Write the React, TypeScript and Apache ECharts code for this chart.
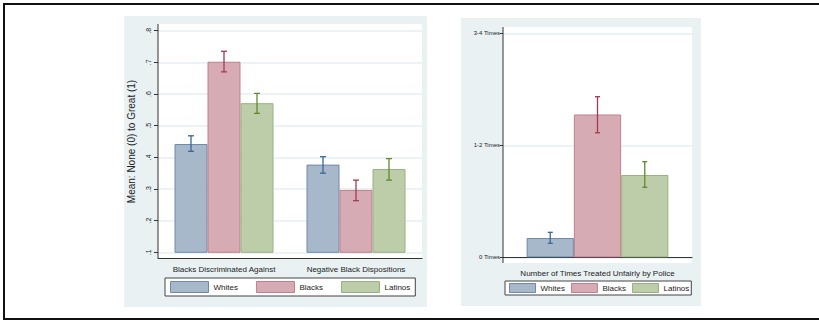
import React, { useEffect, useRef } from "react";
import * as echarts from "echarts";

const leftCategories = ["Blacks Discriminated Against", "Negative Black Dispositions"];
const rightCategories = ["Number of Times Treated Unfairly by Police"];
const groups = ["Whites", "Blacks", "Latinos"];

// Left panel means and CI bounds
const leftWhites = [0.442, 0.377];
const leftBlacks = [0.702, 0.297];
const leftLatinos = [0.571, 0.363];
const leftWhitesCI = [[0.419, 0.468], [0.350, 0.402]];
const leftBlacksCI = [[0.670, 0.735], [0.263, 0.328]];
const leftLatinosCI = [[0.539, 0.602], [0.328, 0.396]];

// Right panel means and CI bounds
const rightWhites = [0.172];
const rightBlacks = [1.275];
const rightLatinos = [0.735];
const rightWhitesCI = [[0.125, 0.223]];
const rightBlacksCI = [[1.112, 1.434]];
const rightLatinosCI = [[0.625, 0.854]];

const leftTickLabels = [".1", ".2", ".3", ".4", ".5", ".6", ".7", ".8"];
const rightTickLabels = ["0 Times", "1-2 Times", "3-4 Times"];

const fills = ["#a7b8ca", "#d7abb3", "#bdcca9"];
const borders = ["#6e8aa8", "#c07f8d", "#97b281"];
const errColors = ["#3c6791", "#a43a4c", "#5f8a2f"];

export default function App() {
  const ref = useRef<HTMLDivElement>(null);
  useEffect(() => {
    const chart = echarts.init(ref.current!, undefined, { renderer: "svg" });
    const font = "Liberation Sans, Arial, sans-serif";

    const barSeries = (name: string, k: number, data: number[], gi: number) => ({
      type: "bar",
      name,
      xAxisIndex: gi,
      yAxisIndex: gi,
      data,
      barGap: "0%",
      barCategoryGap: "25%",
      itemStyle: { color: fills[k], borderColor: borders[k], borderWidth: 1 },
      z: 2,
    });

    const errSeries = (k: number, ci: number[][], gi: number, cap: number) => ({
      type: "custom",
      name: groups[k] + " CI",
      xAxisIndex: gi,
      yAxisIndex: gi,
      z: 5,
      data: ci.map((d, i) => [i, d[0], d[1]]),
      encode: { x: 0, y: [1, 2] },
      renderItem: (params: any, api: any) => {
        const c = api.value(0);
        const lo = api.coord([c, api.value(1)]);
        const hi = api.coord([c, api.value(2)]);
        const bw = (api.size([1, 0])[0] * 0.75) / 3;
        const x = lo[0] + (k - 1) * bw;
        const style = { stroke: errColors[k], lineWidth: 1.3 };
        return {
          type: "group",
          children: [
            { type: "line", shape: { x1: x, y1: lo[1], x2: x, y2: hi[1] }, style },
            { type: "line", shape: { x1: x - cap, y1: lo[1], x2: x + cap, y2: lo[1] }, style },
            { type: "line", shape: { x1: x - cap, y1: hi[1], x2: x + cap, y2: hi[1] }, style },
          ],
        };
      },
    });

    const axisLineStyle = { color: "#333", width: 1 };

    chart.setOption({
      animation: false,
      textStyle: { fontFamily: font },
      graphic: [
        { type: "rect", z: -10, shape: { x: 124, y: 16, width: 303, height: 291 }, style: { fill: "#e9f1f3" } },
        { type: "rect", z: -10, shape: { x: 461, y: 18, width: 240, height: 288 }, style: { fill: "#e9f1f3" } },
        { type: "rect", z: -9, shape: { x: 158, y: 24, width: 264, height: 234 }, style: { fill: "#ffffff" } },
        { type: "rect", z: -9, shape: { x: 503, y: 27, width: 189, height: 236 }, style: { fill: "#ffffff" } },
        { type: "line", z: 10, shape: { x1: 158, y1: 24, x2: 158, y2: 258 }, style: { stroke: "#333", lineWidth: 1 } },
        { type: "line", z: 10, shape: { x1: 503, y1: 27, x2: 503, y2: 263 }, style: { stroke: "#333", lineWidth: 1 } },
        { type: "rect", z: 20, shape: { x: 4, y: 4, width: 840, height: 315 }, style: { fill: "none", stroke: "#111", lineWidth: 2 } },
      ],
      grid: [
        { left: 158, right: 819 - 422, top: 30.7, height: 221.6 },
        { left: 503, right: 819 - 692, top: 33.3, height: 224 },
      ],
      xAxis: [
        {
          type: "category",
          gridIndex: 0,
          data: leftCategories,
          offset: 6,
          axisLine: { lineStyle: axisLineStyle },
          axisTick: { alignWithLabel: true, length: 4, lineStyle: axisLineStyle },
          axisLabel: { interval: 0, fontSize: 8, color: "#222", margin: 7 },
        },
        {
          type: "category",
          gridIndex: 1,
          data: rightCategories,
          offset: 6,
          axisLine: { lineStyle: axisLineStyle },
          axisTick: { alignWithLabel: true, length: 4, lineStyle: axisLineStyle },
          axisLabel: { interval: 0, fontSize: 8, color: "#222", margin: 6 },
        },
      ],
      yAxis: [
        {
          type: "value",
          gridIndex: 0,
          min: 0.1,
          max: 0.8,
          interval: 0.1,
          name: "Mean: None (0) to Great (1)",
          nameLocation: "middle",
          nameGap: 22,
          nameRotate: 90,
          nameTextStyle: { fontSize: 10, color: "#222" },
          axisLine: { show: false },
          axisTick: { show: true, length: 4, lineStyle: axisLineStyle },
          axisLabel: {
            fontSize: 7,
            color: "#222",
            rotate: 90,
            margin: 6,
            formatter: (v: number) => leftTickLabels[Math.round(v * 10) - 1] ?? "",
          },
          splitLine: { show: true, lineStyle: { color: "#e6eff1", width: 1.5 } },
        },
        {
          type: "value",
          gridIndex: 1,
          min: 0,
          max: 2,
          interval: 1,
          axisLine: { show: false },
          axisTick: { show: true, length: 3, lineStyle: axisLineStyle },
          axisLabel: {
            fontSize: 6,
            color: "#222",
            margin: 3,
            formatter: (v: number) => rightTickLabels[Math.round(v)] ?? "",
          },
          splitLine: { show: true, lineStyle: { color: "#e6eff1", width: 1.5 } },
        },
      ],
      legend: [
        {
          left: 165,
          top: 278,
          data: groups,
          icon: "rect",
          itemWidth: 38,
          itemHeight: 11,
          itemGap: 18,
          padding: [3, 5, 3, 5],
          backgroundColor: "#fff",
          borderColor: "#444",
          borderWidth: 1,
          selectedMode: false,
          itemStyle: { borderWidth: 1 },
          textStyle: { fontSize: 8, color: "#222" },
        },
        {
          left: 505,
          top: 281,
          data: groups,
          icon: "rect",
          itemWidth: 26,
          itemHeight: 9,
          itemGap: 6,
          padding: [2, 2, 2, 4],
          backgroundColor: "#fff",
          borderColor: "#444",
          borderWidth: 1,
          selectedMode: false,
          itemStyle: { borderWidth: 1 },
          textStyle: { fontSize: 8, color: "#222" },
        },
      ],
      series: [
        barSeries("Whites", 0, leftWhites, 0),
        barSeries("Blacks", 1, leftBlacks, 0),
        barSeries("Latinos", 2, leftLatinos, 0),
        errSeries(0, leftWhitesCI, 0, 3),
        errSeries(1, leftBlacksCI, 0, 3),
        errSeries(2, leftLatinosCI, 0, 3),
        barSeries("Whites", 0, rightWhites, 1),
        barSeries("Blacks", 1, rightBlacks, 1),
        barSeries("Latinos", 2, rightLatinos, 1),
        errSeries(0, rightWhitesCI, 1, 2.5),
        errSeries(1, rightBlacksCI, 1, 2.5),
        errSeries(2, rightLatinosCI, 1, 2.5),
      ],
    });
    return () => chart.dispose();
  }, []);
  return (
    <div
      ref={ref}
      style={{ position: "fixed", left: 0, top: 0, width: 819, height: 320, background: "#fff" }}
    />
  );
}
